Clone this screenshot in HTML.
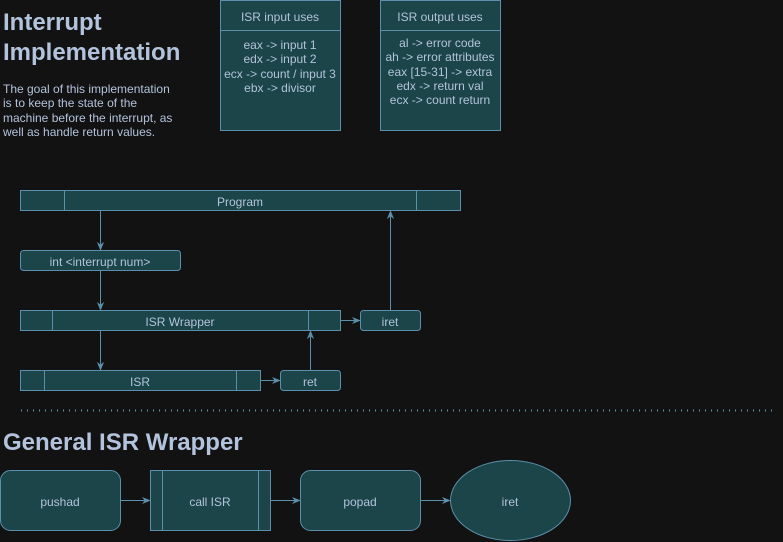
<!DOCTYPE html>
<html><head><style>
html,body{margin:0;padding:0;background:#121212;}
svg{display:block;}
text{font-family:"Liberation Sans",sans-serif;}
</style></head><body>
<svg width="783" height="542" viewBox="0 0 783 542" xmlns="http://www.w3.org/2000/svg">
<defs>
<marker id="a" viewBox="0 0 10 10" refX="9" refY="5" markerWidth="9" markerHeight="9" orient="auto" markerUnits="userSpaceOnUse"><path d="M0,1 L10,5 L0,9 L3,5 z" fill="#5b8fab"/></marker>
</defs>
<rect width="783" height="542" fill="#121212"/>
<g fill="#b3c3dc" font-weight="bold" font-size="24">
<text x="3" y="30">Interrupt</text>
<text x="3" y="60">Implementation</text>
<text x="3" y="450">General ISR Wrapper</text>
</g>
<g fill="#b3c3dc" font-size="12">
<text x="3" y="93">The goal of this implementation</text>
<text x="3" y="107">is to keep the state of the</text>
<text x="3" y="122">machine before the interrupt, as</text>
<text x="3" y="136">well as handle return values.</text>
</g>
<g fill="#1b4548" stroke="#5b8fab" stroke-width="1">
<rect x="220.5" y="0.5" width="120" height="130"/><line x1="220" y1="30.5" x2="340" y2="30.5"/>
<rect x="380.5" y="0.5" width="120" height="130"/><line x1="380" y1="30.5" x2="500" y2="30.5"/>
<rect x="20.5" y="190.5" width="440" height="20"/><line x1="64.5" y1="190" x2="64.5" y2="210"/><line x1="416.5" y1="190" x2="416.5" y2="210"/>
<rect x="20.5" y="250.5" width="160" height="20" rx="3"/>
<rect x="20.5" y="310.5" width="320" height="20"/><line x1="52.5" y1="310" x2="52.5" y2="330"/><line x1="308.5" y1="310" x2="308.5" y2="330"/>
<rect x="360.5" y="310.5" width="60" height="20" rx="3"/>
<rect x="20.5" y="370.5" width="240" height="20"/><line x1="44.5" y1="370" x2="44.5" y2="390"/><line x1="236.5" y1="370" x2="236.5" y2="390"/>
<rect x="280.5" y="370.5" width="60" height="20" rx="3"/>
<rect x="0.5" y="470.5" width="120" height="60" rx="10"/>
<rect x="150.5" y="470.5" width="120" height="60"/><line x1="162.5" y1="470" x2="162.5" y2="530"/><line x1="258.5" y1="470" x2="258.5" y2="530"/>
<rect x="300.5" y="470.5" width="120" height="60" rx="10"/>
<ellipse cx="510.5" cy="500.5" rx="60" ry="40"/>
</g>
<g stroke="#5b8fab" stroke-width="1" fill="none" marker-end="url(#a)">
<line x1="100.5" y1="211" x2="100.5" y2="250"/>
<line x1="100.5" y1="271" x2="100.5" y2="310"/>
<line x1="100.5" y1="331" x2="100.5" y2="370"/>
<line x1="341" y1="320.5" x2="360" y2="320.5"/>
<line x1="390.5" y1="310" x2="390.5" y2="211"/>
<line x1="261" y1="380.5" x2="280" y2="380.5"/>
<line x1="310.5" y1="370" x2="310.5" y2="331"/>
<line x1="121" y1="500.5" x2="150" y2="500.5"/>
<line x1="271" y1="500.5" x2="300" y2="500.5"/>
<line x1="421" y1="500.5" x2="450" y2="500.5"/>
</g>
<line x1="21" y1="410.5" x2="776" y2="410.5" stroke="#5b8fab" stroke-width="2" stroke-dasharray="1 5"/>
<g fill="#b3c3dc" font-size="12" text-anchor="middle">
<text x="280" y="21">ISR input uses</text>
<text x="280" y="49">eax -&gt; input 1</text>
<text x="280" y="63">edx -&gt; input 2</text>
<text x="280" y="78">ecx -&gt; count / input 3</text>
<text x="280" y="92">ebx -&gt; divisor</text>
<text x="440" y="21">ISR output uses</text>
<text x="440" y="47">al -&gt; error code</text>
<text x="440" y="61">ah -&gt; error attributes</text>
<text x="440" y="76">eax [15-31] -&gt; extra</text>
<text x="440" y="90">edx -&gt; return val</text>
<text x="440" y="104">ecx -&gt; count return</text>
<text x="240" y="206">Program</text>
<text x="100" y="266">int &lt;interrupt num&gt;</text>
<text x="180" y="326">ISR Wrapper</text>
<text x="390" y="326">iret</text>
<text x="140" y="386">ISR</text>
<text x="310" y="386">ret</text>
<text x="60" y="506">pushad</text>
<text x="210" y="506">call ISR</text>
<text x="360" y="506">popad</text>
<text x="510" y="506">iret</text>
</g>
</svg>
</body></html>
